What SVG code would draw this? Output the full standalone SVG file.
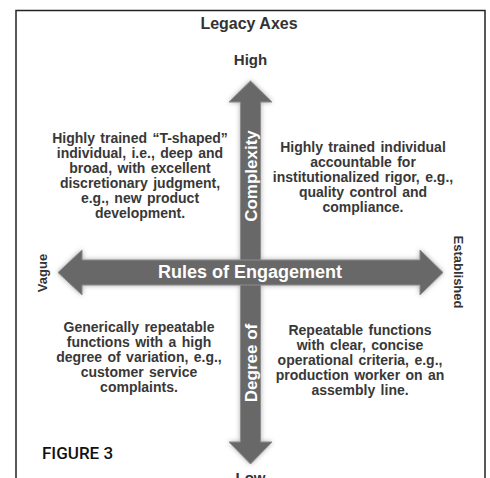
<svg xmlns="http://www.w3.org/2000/svg" width="490" height="478" viewBox="0 0 490 478">
  <style>
    .lbl { font-family: "Liberation Sans", Arial, sans-serif; font-weight: bold; fill: #333333; }
    .quad { font-size: 14px; text-anchor: middle; word-spacing: 1.5px; fill: #383838; }
    .axis { fill: #686868; stroke: #8c8c8c; stroke-width: 1; }
    .inner { font-family: "Liberation Sans", Arial, sans-serif; font-weight: bold; fill: #ffffff; }
  </style>
  <defs>
    <filter id="glow" x="-10%" y="-10%" width="120%" height="120%">
      <feGaussianBlur in="SourceAlpha" stdDeviation="2.5" result="b"/>
      <feFlood flood-color="#8a8a8a" flood-opacity="0.7"/>
      <feComposite in2="b" operator="in" result="s"/>
      <feMerge>
        <feMergeNode in="s"/>
        <feMergeNode in="SourceGraphic"/>
      </feMerge>
    </filter>
  </defs>

  <rect width="490" height="478" fill="#ffffff"/>
  <!-- outer frame, open at the bottom -->
  <path d="M16 478 V10.5 H485 V478" fill="none" stroke="#222222" stroke-width="1.5"/>

  <g id="title">
    <text class="lbl" x="249" y="29" font-size="16" text-anchor="middle">Legacy Axes</text>
  </g>

  <!-- the two axes -->
  <g id="connectors" filter="url(#glow)">
    <polygon class="axis" points="250.5,81 272,102 260.5,102 260.5,442 272,442 250.5,464 229,442 240.5,442 240.5,102 229,102"/>
    <polygon class="axis" points="58,272.5 82,250 82,260 420,260 420,250 443,272.5 420,295 420,285 82,285 82,295"/>
  </g>

  <g id="axis-text">
    <text class="inner" font-size="17" text-anchor="middle" transform="translate(256.5,176) rotate(-90)">Complexity</text>
    <text class="inner" font-size="17" text-anchor="middle" transform="translate(256.5,363) rotate(-90)">Degree of</text>
    <text class="inner" x="250" y="278" font-size="18" text-anchor="middle">Rules of Engagement</text>
  </g>

  <g id="high">
    <text class="lbl" x="250.5" y="65" font-size="15" text-anchor="middle">High</text>
  </g>
  <g id="low">
    <text class="lbl" x="250.5" y="483" font-size="15" text-anchor="middle">Low</text>
  </g>
  <g id="vague">
    <text class="lbl" font-size="13" text-anchor="middle" transform="translate(46.5,273) rotate(-90)">Vague</text>
  </g>
  <g id="established">
    <text class="lbl" font-size="13" text-anchor="middle" transform="translate(453.5,272) rotate(90)">Established</text>
  </g>

  <g id="top-left">
    <text class="lbl quad" x="140" y="143">Highly trained “T-shaped”</text>
    <text class="lbl quad" x="140" y="158">individual, i.e., deep and</text>
    <text class="lbl quad" x="140" y="173">broad, with excellent</text>
    <text class="lbl quad" x="140" y="188">discretionary judgment,</text>
    <text class="lbl quad" x="140" y="203">e.g., new product</text>
    <text class="lbl quad" x="140" y="218">development.</text>
  </g>

  <g id="top-right">
    <text class="lbl quad" x="363" y="152">Highly trained individual</text>
    <text class="lbl quad" x="363" y="167">accountable for</text>
    <text class="lbl quad" x="363" y="182">institutionalized rigor, e.g.,</text>
    <text class="lbl quad" x="363" y="197">quality control and</text>
    <text class="lbl quad" x="363" y="212">compliance.</text>
  </g>

  <g id="bottom-left">
    <text class="lbl quad" x="139" y="332">Generically repeatable</text>
    <text class="lbl quad" x="139" y="347">functions with a high</text>
    <text class="lbl quad" x="139" y="362">degree of variation, e.g.,</text>
    <text class="lbl quad" x="139" y="377">customer service</text>
    <text class="lbl quad" x="139" y="392">complaints.</text>
  </g>

  <g id="bottom-right">
    <text class="lbl quad" x="360" y="335">Repeatable functions</text>
    <text class="lbl quad" x="360" y="350">with clear, concise</text>
    <text class="lbl quad" x="360" y="365">operational criteria, e.g.,</text>
    <text class="lbl quad" x="360" y="380">production worker on an</text>
    <text class="lbl quad" x="360" y="395">assembly line.</text>
  </g>

  <g id="figure-label">
    <text x="42" y="459" font-family="Roboto, 'Liberation Sans', sans-serif" font-weight="500" font-size="17" fill="#111111">FIGURE 3</text>
  </g>
</svg>
